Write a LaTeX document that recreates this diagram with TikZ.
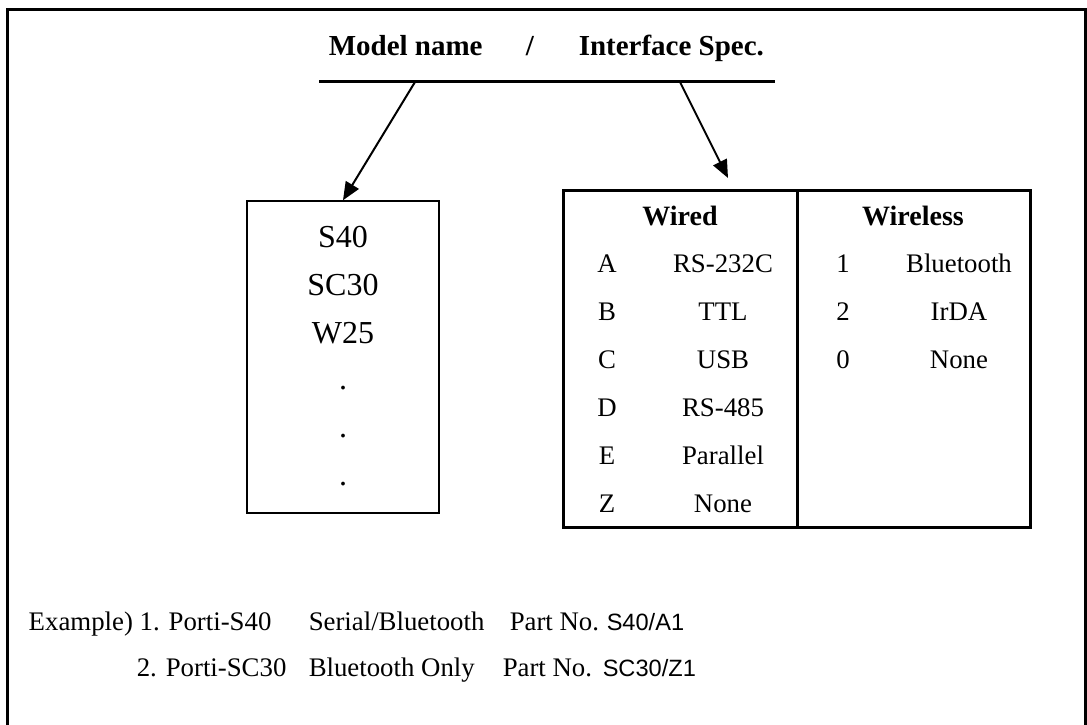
\documentclass[tikz,border=0pt]{standalone}
\usepackage{fontspec}
\setmainfont{Liberation Serif}
\setsansfont{Liberation Sans}
\usetikzlibrary{arrows.meta}

\begin{document}
\begin{tikzpicture}[x=0.5pt, y=-0.5pt, line width=0.75pt]
  \tikzstyle{txt}=[inner sep=0pt, anchor=base, font=\fontsize{13.4}{16}\selectfont]
  \tikzstyle{head}=[txt, font=\fontsize{14.5}{17}\selectfont\bfseries]
  \tikzstyle{model}=[txt, font=\fontsize{16}{19}\selectfont]
  \tikzstyle{part}=[txt, anchor=base west, font=\fontsize{11.8}{14}\selectfont\sffamily]
  \tikzstyle{box}=[rectangle, draw, line width=0.75pt, minimum width=96pt, minimum height=156pt, inner sep=0pt]
  \tikzstyle{tabcol}=[rectangle, draw, line width=1.5pt, minimum width=116.5pt, minimum height=168.5pt, inner sep=0pt]
  \tikzstyle{pointer}=[-{Triangle[length=9pt, width=7.5pt]}, line width=1pt]

  \useasboundingbox (0, 0) rectangle (1087, 724);
  \draw [line width=1.5pt] (7, 740) -- (7, 9) -- (1085, 9) -- (1085, 740);

  % title
  \node[head, anchor=base west] (name)  at (328, 55) {Model name};
  \node[head] (slash) at (530, 55) {/};
  \node[head, anchor=base west] (spec)  at (578, 55) {Interface Spec.};
  \draw [line width=1.5pt] (319, 81) -- (775, 81);
  \coordinate (n0) at (415, 82);
  \coordinate (s0) at (680, 82);
  \coordinate (s1) at (728, 178);

  % model names
  \node[box] (models) at (343, 357) {};
  \node[model] (m1) at (343, 247) {S40};
  \node[model] (m2) at (343, 295) {SC30};
  \node[model] (m3) at (343, 343) {W25};
  \node[model] (d1) at (343, 389) {.};
  \node[model] (d2) at (343, 437) {.};
  \node[model] (d3) at (343, 485) {.};

  % interface table
  \node[tabcol, minimum width=117pt] (wired) at (680, 358.5) {};
  \node[tabcol] (wireless) at (913.5, 358.5) {};
  \node[txt, font=\fontsize{14}{16}\selectfont\bfseries] (wiredh) at (680, 225) {Wired};
  \node[txt, font=\fontsize{14}{16}\selectfont\bfseries] (wirelessh) at (913, 225) {Wireless};

  \node[txt] (a)  at (607, 272) {A};
  \node[txt] (av) at (723, 272) {RS-232C};
  \node[txt] (b)  at (607, 320) {B};
  \node[txt] (bv) at (723, 320) {TTL};
  \node[txt] (c)  at (607, 368) {C};
  \node[txt] (cv) at (723, 368) {USB};
  \node[txt] (d)  at (607, 416) {D};
  \node[txt] (dv) at (723, 416) {RS-485};
  \node[txt] (e)  at (607, 464) {E};
  \node[txt] (ev) at (723, 464) {Parallel};
  \node[txt] (z)  at (607, 512) {Z};
  \node[txt] (zv) at (723, 512) {None};

  \node[txt] (w1)  at (843, 272) {1};
  \node[txt] (w1v) at (959, 272) {Bluetooth};
  \node[txt] (w2)  at (843, 320) {2};
  \node[txt] (w2v) at (959, 320) {IrDA};
  \node[txt] (w0)  at (843, 368) {0};
  \node[txt] (w0v) at (959, 368) {None};

  % examples
  \node[txt, anchor=base west] (ex1)  at (28, 630) {Example) 1. Porti-S40};
  \node[txt, anchor=base west] (ex1b) at (308, 630) {Serial/Bluetooth};
  \node[txt, anchor=base west] (ex1c) at (509, 630) {Part No.};
  \node[part] (ex1d) at (606, 630) {S40/A1};
  \node[txt, anchor=base west] (ex2)  at (136, 676) {2. Porti-SC30};
  \node[txt, anchor=base west] (ex2b) at (308, 676) {Bluetooth Only};
  \node[txt, anchor=base west] (ex2c) at (502, 676) {Part No.};
  \node[part] (ex2d) at (602, 676) {SC30/Z1};

  \path[pointer] (n0) edge (models.north);
  \path[pointer] (s0) edge (s1);
\end{tikzpicture}
\end{document}
